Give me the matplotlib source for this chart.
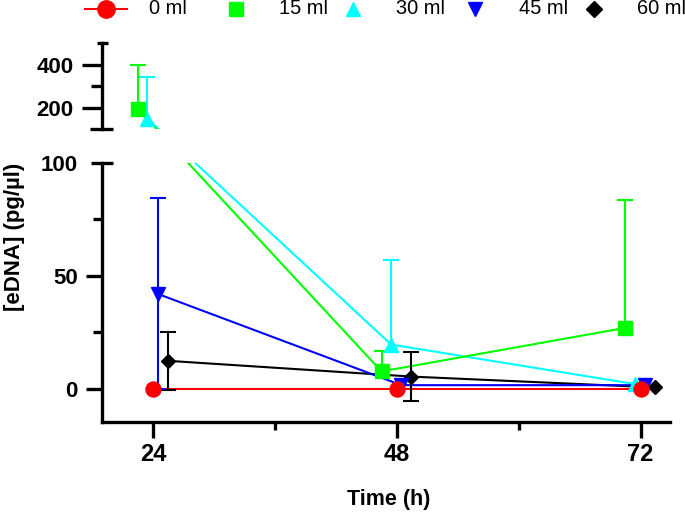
import matplotlib.pyplot as plt
import numpy as np
from matplotlib.lines import Line2D

plt.rcParams['font.family'] = ['Liberation Sans', 'DejaVu Sans']

# values (mean and SD per time point)
time_h = [24, 48, 72]
labels = ['0 ml', '15 ml', '30 ml', '45 ml', '60 ml']

mean_0 = [0.0, 0.0, 0.0]
sd_0 = [0.0, 0.0, 0.0]
mean_15 = [196.0, 7.6, 26.9]
sd_15 = [205.0, 9.0, 56.8]
mean_30 = [150.0, 19.5, 2.0]
sd_30 = [195.0, 37.5, 0.0]
mean_45 = [42.0, 1.5, 1.5]
sd_45 = [42.4, 0.0, 0.0]
mean_60 = [12.3, 5.3, 0.5]
sd_60 = [12.8, 10.7, 0.0]

means = [mean_0, mean_15, mean_30, mean_45, mean_60]
sds = [sd_0, sd_15, sd_30, sd_45, sd_60]

# styling
colors = ['#ff0000', '#00ff00', '#00ffff', '#0000ff', '#000000']
markers = ['o', 's', '^', 'v', 'D']
msizes = [10.8, 10.3, 9.4, 9.4, 7.0]
dodge = [0.0, -1.5, -0.55, 0.45, 1.45]
both_sides = [True, False, False, True, True]

BREAK = 100
W, H = 685, 512
SPINE_W = 2.4

fig = plt.figure(figsize=(W / 100, H / 100), dpi=100)
left = 101.7 / W
width = (670.5 - 101.7) / W
ax_bot = fig.add_axes([left, (H - 421.7) / H, width, (421.7 - 163) / H])
ax_top = fig.add_axes([left, (H - 129.3) / H, width, (129.3 - 43.4) / H])

for ax in (ax_top, ax_bot):
    ax.set_xlim(18.95, 74.95)
    ax.patch.set_visible(False)
    for side in ['top', 'right']:
        ax.spines[side].set_visible(False)
    ax.spines['left'].set_linewidth(SPINE_W)
    ax.spines['bottom'].set_linewidth(SPINE_W)

ax_bot.set_ylim(-14.7, 100)
ax_top.set_ylim(100, 500)

# x axis
ax_bot.set_xticks([24, 48, 72], ['24', '48', '72'], fontsize=17, fontweight='bold')
ax_bot.set_xticks([36, 60], minor=True)
ax_bot.tick_params(axis='x', which='major', length=11.3, width=SPINE_W, pad=4)
ax_bot.tick_params(axis='x', which='minor', length=6, width=SPINE_W)

# lower y segment
ax_bot.set_yticks([0, 50, 100], ['0', '50', '100'], fontsize=16, fontweight='bold')
ax_bot.set_yticks([25, 75], minor=True)
ax_bot.tick_params(axis='y', which='major', length=11.3, width=SPINE_W, pad=6)
ax_bot.tick_params(axis='y', which='minor', length=6.5, width=SPINE_W)
ax_bot.yaxis.get_major_ticks()[2].tick1line.set_visible(False)

# upper y segment
ax_top.spines['bottom'].set_visible(False)
ax_top.set_xticks([])
ax_top.set_yticks([200, 400], ['200', '400'], fontsize=16, fontweight='bold')
ax_top.set_yticks([300], minor=True)
ax_top.tick_params(axis='y', which='major', length=14.2, width=SPINE_W, pad=6)
ax_top.tick_params(axis='y', which='minor', length=7.7, width=SPINE_W)

# end caps of the broken axis
ax_w = width * W
for ax, yv, a, b in [(ax_bot, 100, 11, 11), (ax_top, 100, 11.7, 11), (ax_top, 500, 4.7, 6.3)]:
    ax.plot([-a / ax_w, b / ax_w], [yv, yv], color='black', lw=SPINE_W,
            solid_capstyle='butt', transform=ax.get_yaxis_transform(), clip_on=False)


def axis_for(v):
    return ax_top if v > BREAK else ax_bot


for i in reversed(range(len(labels))):
    x = np.array(time_h, dtype=float) + dodge[i]
    y = np.array(means[i])
    s = np.array(sds[i])
    c = colors[i]

    # connecting line: straight on screen, clipped by both segments
    pts = np.array([axis_for(v).transData.transform((xx, v)) for xx, v in zip(x, y)])
    for ax in (ax_top, ax_bot):
        d = ax.transData.inverted().transform(pts)
        ax.plot(d[:, 0], d[:, 1], color=c, lw=1.5, zorder=2)

    for xx, v, sd in zip(x, y, s):
        ax = axis_for(v)
        if sd > 0:
            low = sd if both_sides[i] else 0
            _, caps, _ = ax.errorbar(xx, v, yerr=[[low], [sd]], fmt='none', ecolor=c,
                                     elinewidth=1.5, capsize=6, capthick=1.5, zorder=3)
            if not both_sides[i]:
                for cap in caps:
                    if abs(cap.get_ydata()[0] - v) < 1e-9:
                        cap.set_visible(False)
        ax.plot([xx], [v], marker=markers[i], ms=msizes[i], color=c, mec=c,
                linestyle='none', zorder=4, clip_on=False)

# legend along the top, laid out like the original
leg_marker_x = [106, 235.5, 352.7, 475, 594]
leg_text_x = [149, 279, 395.7, 519, 636.7]
leg_y = 1 - 8.7 / H
leg_ms = [12.5, 10.5, 10.5, 10.5, 7.8]
fig.add_artist(Line2D([85 / W, 127 / W], [leg_y, leg_y], color=colors[0], lw=1.5,
                      transform=fig.transFigure))
for i, lab in enumerate(labels):
    fig.add_artist(Line2D([leg_marker_x[i] / W], [leg_y], marker=markers[i], ms=leg_ms[i],
                          color=colors[i], linestyle='none', transform=fig.transFigure))
    fig.text(leg_text_x[i] / W, leg_y, lab, fontsize=14.4, ha='left', va='center')

fig.text(14.5 / W, 1 - 236.8 / H, '[eDNA] (pg/µl)', rotation=90, fontsize=16,
         fontweight='bold', ha='center', va='center')
fig.text(388.7 / W, 1 - 499.5 / H, 'Time (h)', fontsize=15.5, fontweight='bold',
         ha='center', va='center')

fig.savefig('out.png', dpi=100)
